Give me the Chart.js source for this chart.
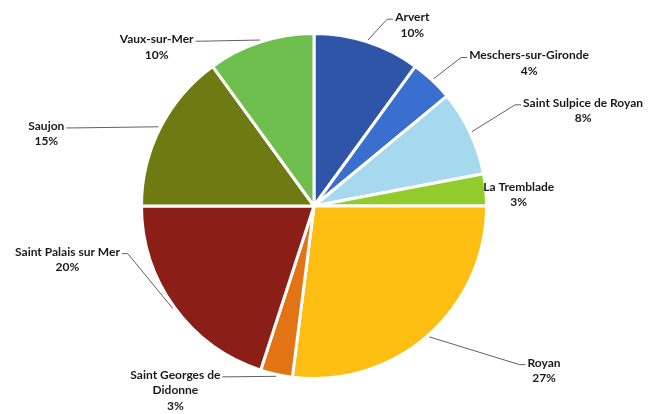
<!DOCTYPE html>
<html>
<head>
<meta charset="utf-8">
<script src="https://cdn.jsdelivr.net/npm/chart.js@4.4.0/dist/chart.umd.min.js"></script>
<style>
  html,body{margin:0;padding:0;background:#fff;}
  #wrap{width:648px;height:414px;}
</style>
</head>
<body>
<div id="wrap"><canvas id="c" width="648" height="414"></canvas></div>
<script>
const categories = ["Arvert","Meschers-sur-Gironde","Saint Sulpice de Royan","La Tremblade","Royan","Saint Georges de Didonne","Saint Palais sur Mer","Saujon","Vaux-sur-Mer"];
const shares = [10,4,8,3,27,3,20,15,10];
const labelLines = [["Arvert"],["Meschers-sur-Gironde"],["Saint Sulpice de Royan"],["La Tremblade"],["Royan"],["Saint Georges de","Didonne"],["Saint Palais sur Mer"],["Saujon"],["Vaux-sur-Mer"]];
const colors = ["#2E55A8","#3A6FD0","#A6D8EE","#92CC2C","#FFBE12","#E37415","#8B1E16","#6E7B12","#6EBF4E"];

// label placement relative to each slice's outer mid point (dx, dy of label block center)
const labelOffsets = [[45,-17],[97,-17],[113,-22],[33,5],[116,35],[-101,16],[-107,-48],[-114,6],[-104,5]];

const leaderPlugin = {
  id:'leaders',
  afterDatasetsDraw(chart){
    const ctx = chart.ctx;
    const meta = chart.getDatasetMeta(0);
    ctx.save();
    ctx.font = "bold 12px Lato, 'Liberation Sans', sans-serif";
    ctx.textAlign = 'center';
    ctx.textBaseline = 'middle';
    const lh = 15.5;
    meta.data.forEach((arc,i)=>{
      const p = arc.getProps(['x','y','startAngle','endAngle','outerRadius'],true);
      const mid = (p.startAngle+p.endAngle)/2;
      const ex = p.x + Math.cos(mid)*p.outerRadius;
      const ey = p.y + Math.sin(mid)*p.outerRadius;
      const ax = p.x + Math.cos(mid)*(p.outerRadius+2);
      const ay = p.y + Math.sin(mid)*(p.outerRadius+2);
      const lines = labelLines[i].concat([shares[i]+"%"]);
      const cx = ex + labelOffsets[i][0];
      const cy = ey + labelOffsets[i][1];
      const top = cy - (lines.length-1)*lh/2;
      const w = ctx.measureText(lines[0]).width;
      const right = labelOffsets[i][0] > 0;
      const lx = right ? cx - w/2 - 2 : cx + w/2 + 2;
      const ly = top + 2;
      if (i !== 3) {
        ctx.strokeStyle = '#606060';
        ctx.lineWidth = 1;
        ctx.beginPath();
        ctx.moveTo(lx, ly);
        ctx.lineTo(lx + (right ? -6 : 6), ly);
        ctx.lineTo(ax, ay);
        ctx.stroke();
      }
      ctx.fillStyle = '#1a1a1a';
      lines.forEach((t,k)=>ctx.fillText(t, cx, top + k*lh));
    });
    ctx.restore();
  }
};

new Chart(document.getElementById('c'), {
  type:'pie',
  data:{
    labels: categories,
    datasets:[{
      data: shares,
      backgroundColor: colors,
      borderColor:'#ffffff',
      borderWidth:3
    }]
  },
  options:{
    responsive:false,
    animation:false,
    layout:{padding:{left:140,right:160,top:32,bottom:34}},
    plugins:{legend:{display:false},tooltip:{enabled:false}}
  },
  plugins:[leaderPlugin]
});
</script>
</body>
</html>
